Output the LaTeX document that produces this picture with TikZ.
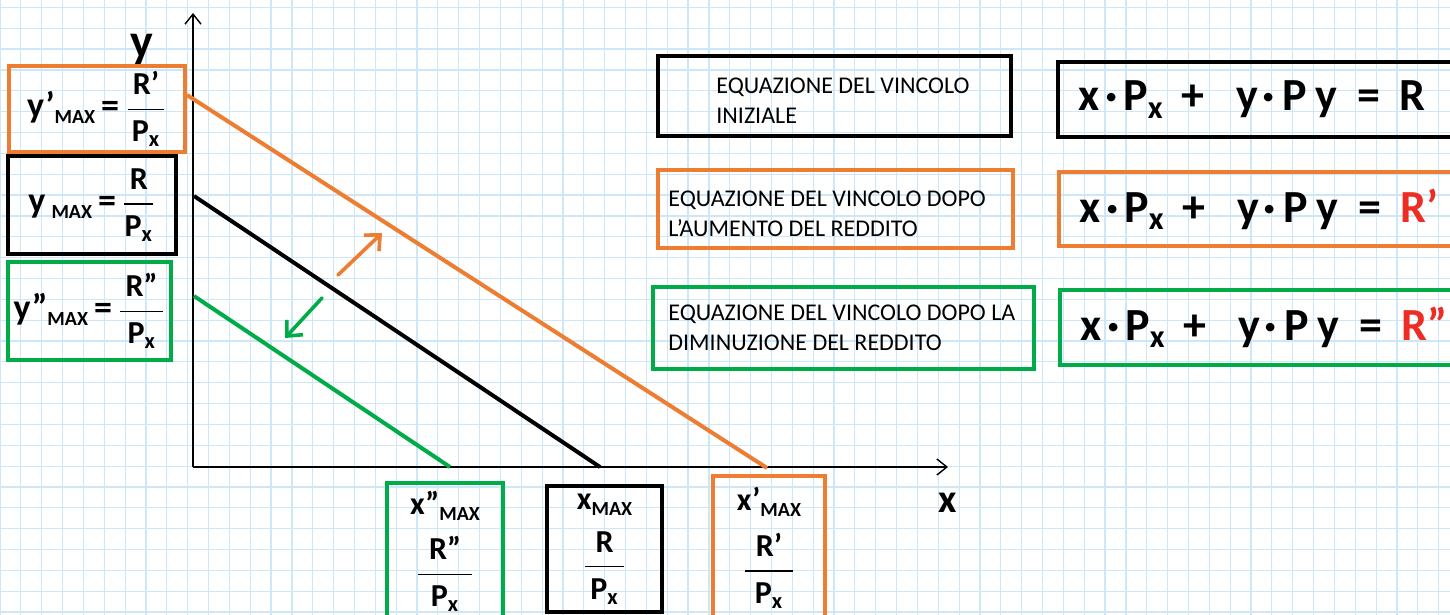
\documentclass[tikz,border=0pt]{standalone}
\usepackage{amsmath}
\usepackage{fontspec}
\setmainfont{Carlito}
\usetikzlibrary{arrows.meta}
\definecolor{gridblue}{RGB}{206,231,248}
\definecolor{vorange}{RGB}{237,125,49}
\definecolor{vgreen}{RGB}{0,172,72}
\definecolor{vred}{RGB}{238,44,36}
\newcommand{\rfrac}[1]{$\dfrac{\hbox{\fontsize{16}{16}\selectfont\bfseries\,#1\,}}{\hbox{\fontsize{16}{16}\selectfont\bfseries P\textsubscript{x}}}$}
\newcommand{\maxsub}{\raisebox{-3pt}{\fontsize{10}{10}\selectfont MAX}}
\newcommand{\budgeteq}[1]{\mbox{x\hspace{3pt}·\hspace{3pt}P\textsubscript{x}\hspace{9pt}+\hspace{16pt}y\hspace{2pt}·\hspace{4pt}P\hspace{4pt}y\hspace{10pt}=\hspace{10pt}#1}}
\tikzset{gridline/.style = {draw=gridblue, line width=0.6pt},
         frame/.style = {draw, line width=2pt, rectangle, inner sep=0pt},
         ymaxbox/.style = {frame, font=\fontsize{18}{20}\selectfont\bfseries},
         xmaxbox/.style = {frame, align=center, font=\fontsize{16}{18}\selectfont\bfseries},
         infotext/.style = {anchor=west, align=left, inner sep=0pt, font=\fontsize{12}{15}\selectfont},
         eqbox/.style = {frame, anchor=west, align=left, inner xsep=10pt, text width=183pt, font=\fontsize{23}{26}\selectfont\bfseries},
         budget/.style = {line width=2pt},
         shiftarrow/.style = {line width=1.8pt, line cap=round, -{Straight Barb[length=6pt,width=11pt]}},
         axis/.style = {line width=0.7pt, -{Straight Barb[length=5pt,width=8pt]}}}

\begin{document}
\begin{tikzpicture}[x=0.5pt,y=-0.5pt]
        \useasboundingbox[fill=white](0,0) rectangle (1450,615);
        \foreach \i in {0,...,69} \draw[gridline](\i*20.85,0)--(\i*20.85,615);
        \foreach \j in {0,...,29} \draw[gridline](0,7.4+\j*20.85)--(1450,7.4+\j*20.85);

        \coordinate (O) at (193,467);
        \coordinate (ytop) at (193,13);
        \coordinate (xend) at (948,467);
        \draw[axis](O)--(ytop);
        \draw[axis](O)--(xend);
        \node[font=\fontsize{24}{24}\selectfont\bfseries] (ylab) at (142,50) {y};
        \node[font=\fontsize{20}{20}\selectfont\bfseries] (xlab) at (948,503) {x};

        \coordinate (yR1) at (187,95);
        \coordinate (xR1) at (767,468);
        \coordinate (yR) at (194,196);
        \coordinate (xR) at (600,467);
        \coordinate (yR2) at (194,296);
        \coordinate (xR2) at (450,467);
        \draw[budget,vorange](yR1)--(xR1);
        \draw[budget](yR)--(xR);
        \draw[budget,vgreen](yR2)--(xR2);

        \coordinate (upfrom) at (338,275);
        \coordinate (upto) at (382,233);
        \coordinate (downfrom) at (322,298);
        \coordinate (downto) at (285,338);
        \draw[shiftarrow,vorange](upfrom)--(upto);
        \draw[shiftarrow,vgreen](downfrom)--(downto);

        \node[ymaxbox,draw=vorange,minimum width=88pt,minimum height=43pt] (ymax1) at (97,109) {y'\maxsub\,=\,\rfrac{R'}};
        \node[ymaxbox,minimum width=84pt,minimum height=49pt] (ymax) at (92,205) {y\,\maxsub\,=\,\rfrac{R}};
        \node[ymaxbox,draw=vgreen,minimum width=81.5pt,minimum height=49pt] (ymax2) at (89.5,311) {y''\maxsub\,=\,\rfrac{R''}};

        \node[xmaxbox,draw=vgreen,minimum width=58pt,minimum height=68.5pt] (xmax2) at (445,551.5) {x''\maxsub\\[7pt]\rfrac{\,R''\,}};
        \node[xmaxbox,minimum width=57.5pt,minimum height=63pt] (xmax) at (604.5,549) {x\maxsub\\[7pt]\rfrac{\,R\,}};
        \node[xmaxbox,draw=vorange,minimum width=56pt,minimum height=72pt] (xmax1) at (769,548) {x'\maxsub\\[7pt]\rfrac{\,R'\,}};

        \node[frame,minimum width=176.5pt,minimum height=40pt] (boxinit) at (834.5,96) {};
        \node[frame,draw=vorange,minimum width=177.5pt,minimum height=39pt] (boxup) at (835.5,209) {};
        \node[frame,draw=vgreen,minimum width=190.5pt,minimum height=41pt] (boxdown) at (843.5,328) {};
        \node[infotext] (txtinit) at (716,101) {EQUAZIONE DEL VINCOLO\\INIZIALE};
        \node[infotext] (txtup) at (668,214) {EQUAZIONE DEL VINCOLO DOPO\\L'AUMENTO DEL REDDITO};
        \node[infotext] (txtdown) at (668,328) {EQUAZIONE DEL VINCOLO DOPO LA\\DIMINUZIONE DEL REDDITO};

        \node[eqbox,minimum height=37.5pt] (eqinit) at (1056,99.5) {\budgeteq{R}};
        \node[eqbox,draw=vorange,minimum height=37pt] (equp) at (1057,209) {\budgeteq{\textcolor{vred}{R'}}};
        \node[eqbox,draw=vgreen,minimum height=37.5pt] (eqdown) at (1058,327.5) {\budgeteq{\textcolor{vred}{R''}}};
    \end{tikzpicture}
\end{document}
